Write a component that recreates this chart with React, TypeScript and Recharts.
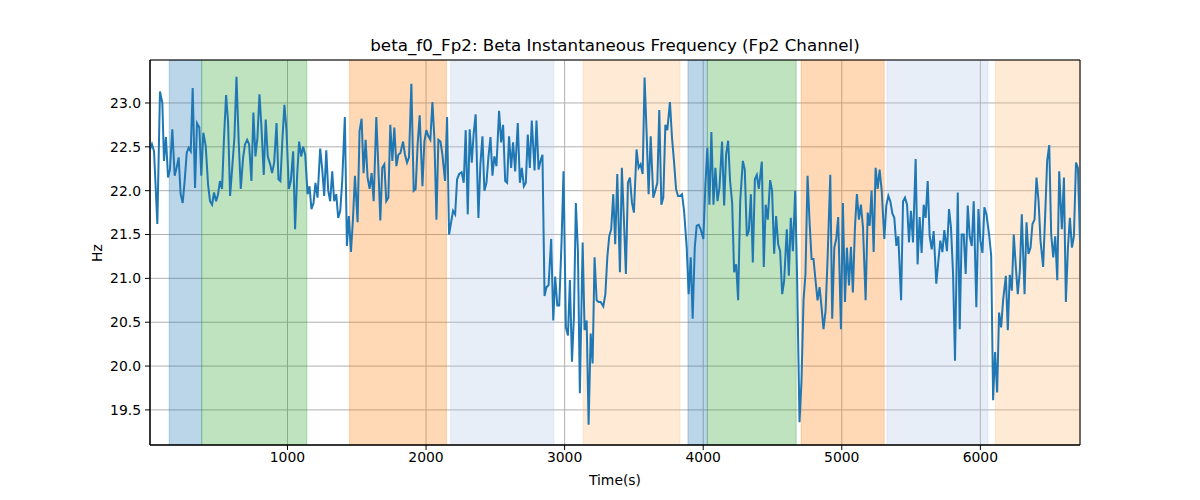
import {
  LineChart,
  Line,
  XAxis,
  YAxis,
  CartesianGrid,
  ReferenceArea,
} from "recharts";

// sample times (s)
const times = [
  // 0 - 1145
  8, 22, 37, 61, 80, 97, 109, 123, 138, 152, 169, 186, 200, 215, 229,
  244, 258, 273, 287, 302, 316, 333, 347, 364, 378, 393, 410, 427, 441, 456,
  470, 485, 499, 513, 528, 542, 557, 571, 586, 603, 617, 632, 648, 663, 680,
  694, 709, 723, 740, 754, 769, 783, 798, 812, 829, 843, 858, 875, 889, 904,
  921, 935, 949, 964, 978, 993, 1010, 1024, 1041, 1055, 1070, 1084, 1099, 1113, 1128,
  1145,
  // 1145 - 2240
  1159, 1173, 1188, 1202, 1217, 1236, 1251, 1265, 1280, 1294, 1308, 1323, 1337, 1352, 1366,
  1381, 1395, 1414, 1429, 1443, 1458, 1472, 1487, 1506, 1520, 1535, 1549, 1564, 1578, 1593,
  1607, 1622, 1641, 1655, 1670, 1684, 1699, 1713, 1728, 1742, 1757, 1771, 1786, 1800, 1815,
  1834, 1848, 1863, 1877, 1894, 1911, 1925, 1940, 1954, 1974, 1988, 2002, 2017, 2031, 2046,
  2060, 2075, 2089, 2104, 2118, 2137, 2152, 2166, 2181, 2195, 2210, 2224, 2239,
  // 2240 - 3325
  2257, 2272, 2286, 2301, 2315, 2330, 2344, 2358, 2378, 2392, 2407, 2421, 2436, 2450, 2465,
  2479, 2493, 2508, 2527, 2542, 2556, 2571, 2585, 2599, 2614, 2628, 2643, 2662, 2677, 2691,
  2706, 2720, 2734, 2749, 2763, 2783, 2797, 2812, 2826, 2840, 2855, 2869, 2884, 2903, 2918,
  2932, 2947, 2961, 2978, 2992, 3009, 3024, 3038, 3053, 3067, 3081, 3096, 3110, 3130, 3144,
  3159, 3173, 3188, 3202, 3216, 3231, 3245, 3260, 3279, 3294, 3308, 3322,
  // 3325 - 4405
  3336, 3351, 3365, 3380, 3399, 3413, 3428, 3442, 3457, 3471, 3486, 3500, 3519, 3534, 3548,
  3563, 3577, 3592, 3606, 3621, 3640, 3654, 3669, 3683, 3698, 3712, 3727, 3741, 3760, 3775,
  3789, 3804, 3818, 3833, 3847, 3862, 3881, 3895, 3910, 3924, 3939, 3953, 3968, 3982, 4001,
  4016, 4030, 4045, 4059, 4074, 4088, 4103, 4117, 4136, 4151, 4165, 4180, 4194, 4209, 4223,
  4238, 4252, 4267, 4286, 4300, 4315, 4329, 4344, 4358, 4373, 4387, 4401,
  // 4405 - 5490
  4423, 4437, 4451, 4466, 4483, 4497, 4512, 4526, 4541, 4555, 4570, 4584, 4603, 4618, 4632,
  4647, 4664, 4678, 4695, 4709, 4724, 4738, 4753, 4767, 4782, 4796, 4811, 4825, 4840, 4854,
  4868, 4883, 4897, 4917, 4931, 4946, 4960, 4974, 4994, 5008, 5023, 5037, 5052, 5066, 5080,
  5095, 5109, 5124, 5138, 5153, 5172, 5187, 5201, 5215, 5230, 5244, 5259, 5273, 5288, 5307,
  5321, 5336, 5350, 5365, 5379, 5394, 5408, 5428, 5442, 5456, 5471, 5485,
  // 5490 - end
  5499, 5514, 5533, 5547, 5562, 5576, 5591, 5605, 5620, 5634, 5649, 5663, 5682, 5697, 5711,
  5726, 5740, 5759, 5774, 5788, 5803, 5817, 5837, 5851, 5865, 5880, 5894, 5909, 5923, 5938,
  5952, 5971, 5986, 6000, 6015, 6029, 6044, 6063, 6078, 6092, 6106, 6121, 6135, 6150, 6164,
  6184, 6198, 6212, 6227, 6241, 6256, 6270, 6285, 6299, 6319, 6333, 6347, 6362, 6376, 6391,
  6405, 6420, 6434, 6453, 6468, 6482, 6497, 6511, 6526, 6540, 6555, 6569, 6588, 6603, 6617,
  6632, 6646, 6661, 6675, 6690, 6704, 6719,
];

// instantaneous frequency (Hz)
const hz = [
  22.47, 22.53, 22.45, 21.62, 23.13, 23.0, 22.34, 22.61, 22.15, 22.24, 22.7, 22.17, 22.26, 22.38, 21.96,
  21.86, 22.11, 22.43, 22.49, 22.45, 23.17, 22.03, 22.77, 22.72, 22.17, 22.66, 22.51, 22.07, 21.88, 21.84,
  21.98, 21.88, 21.96, 22.11, 22.02, 22.6, 23.09, 22.79, 21.94, 22.3, 22.6, 23.3, 22.56, 22.02, 22.38,
  22.53, 22.58, 22.53, 22.11, 22.89, 22.39, 22.6, 23.1, 22.73, 22.18, 22.81, 22.39, 22.3, 22.2, 22.32,
  22.77, 22.13, 22.11, 22.6, 22.98, 22.68, 22.02, 22.11, 22.45, 21.56, 22.18, 22.56, 22.39, 22.5, 22.41,
  21.96,

  22.05, 21.79, 21.86, 22.09, 21.92, 22.48, 22.24, 21.94, 22.46, 22.0, 21.88, 22.22, 21.88, 21.96, 21.69,
  21.77, 22.11, 22.84, 21.37, 21.71, 21.3, 21.66, 22.17, 21.64, 22.68, 22.82, 22.2, 22.58, 22.15, 22.02,
  22.2, 21.88, 22.84, 22.3, 21.66, 22.26, 22.3, 21.88, 21.92, 22.75, 22.34, 22.72, 22.28, 22.41, 22.43,
  22.56, 22.41, 22.32, 22.38, 23.22, 22.0, 22.02, 22.55, 22.86, 22.05, 22.56, 22.69, 22.62, 22.58, 23.01,
  22.6, 21.67, 22.58, 22.56, 22.41, 22.11, 22.84, 21.5, 21.64, 21.77, 21.73, 22.13, 22.19,

  22.21, 22.09, 22.69, 21.73, 22.7, 22.32, 22.66, 22.87, 21.69, 22.3, 22.62, 22.0, 22.09, 22.38, 22.61,
  22.17, 22.39, 22.28, 22.91, 22.55, 22.75, 22.11, 22.09, 22.62, 22.26, 22.55, 22.22, 22.77, 22.09, 22.26,
  22.05, 22.09, 22.64, 22.26, 22.8, 22.23, 22.8, 22.24, 22.34, 22.41, 20.8, 20.9, 20.92, 21.45, 20.52,
  21.02, 20.69, 20.69, 21.43, 22.22, 20.44, 20.35, 20.98, 20.05, 20.56, 21.86, 21.31, 19.69, 21.41, 20.41,
  20.52, 19.33, 20.37, 20.03, 21.24, 20.75, 20.73, 20.73, 20.68, 20.82, 21.24, 21.48,

  21.56, 21.96, 21.39, 22.19, 21.07, 22.26, 21.66, 21.05, 22.09, 22.15, 21.86, 21.75, 22.47, 22.26, 22.3,
  22.19, 23.29, 22.64, 21.96, 22.62, 21.92, 22.0, 22.09, 22.92, 21.84, 21.92, 22.75, 22.69, 23.01, 22.6,
  22.34, 22.02, 21.94, 21.94, 21.96, 21.77, 21.35, 20.82, 21.24, 20.54, 21.35, 21.6, 21.61, 21.56, 21.45,
  22.07, 22.49, 21.84, 22.67, 21.84, 22.26, 21.88, 22.03, 22.56, 21.83, 22.41, 22.57, 22.11, 21.86, 21.07,
  21.16, 20.75, 21.88, 22.34, 22.24, 21.48, 21.54, 21.96, 21.18, 22.13, 22.18, 22.02,

  22.33, 21.13, 21.84, 21.67, 22.12, 22.0, 21.28, 21.71, 21.39, 21.31, 20.82, 20.97, 21.56, 21.03, 21.69,
  21.31, 22.0, 20.97, 19.36, 19.82, 20.75, 21.05, 22.17, 21.66, 21.22, 21.22, 20.97, 20.75, 20.9, 20.67,
  20.42, 20.63, 21.2, 22.18, 20.54, 21.35, 21.45, 21.7, 20.42, 21.86, 20.73, 21.35, 20.92, 21.36, 20.84,
  21.58, 21.96, 21.67, 21.84, 21.58, 20.75, 21.75, 21.6, 22.0, 21.3, 22.26, 22.02, 22.24, 22.0, 21.45,
  21.83, 21.94, 21.88, 21.74, 21.69, 21.37, 21.48, 20.75, 21.88, 21.92, 21.84, 21.41,

  21.77, 21.41, 22.36, 21.16, 21.7, 21.29, 21.84, 21.69, 22.11, 21.48, 21.33, 21.54, 20.94, 21.2, 21.43,
  21.3, 21.55, 21.31, 21.79, 21.58, 21.05, 20.06, 21.98, 20.42, 21.5, 21.5, 21.05, 21.83, 21.48, 21.37,
  21.88, 20.67, 21.79, 21.43, 21.29, 21.81, 21.73, 21.5, 21.26, 19.61, 20.16, 19.7, 20.61, 20.44, 20.75,
  21.03, 20.41, 21.04, 20.86, 21.5, 21.13, 20.82, 21.09, 21.73, 20.82, 21.64, 21.28, 21.35, 21.62, 21.67,
  22.15, 21.88, 21.43, 21.13, 21.73, 22.34, 22.52, 21.5, 21.24, 21.48, 20.98, 22.22, 21.56, 22.15, 20.73,
  21.35, 21.69, 21.35, 21.48, 22.32, 22.26, 21.43,
];

// shaded intervals
const spanStart = [147, 381, 1448, 2178, 3134, 3890, 4030, 4707, 5326, 6108];
const spanEnd = [381, 1140, 2147, 2922, 3832, 4030, 4671, 5306, 6055, 6719];
const spanKind = ["blue", "green", "orange", "blueLight", "orangeLight", "blue", "green", "orange", "blueLight", "orangeLight"];

const xTicks = [1000, 2000, 3000, 4000, 5000, 6000];
const yTicks = [19.5, 20.0, 20.5, 21.0, 21.5, 22.0, 22.5, 23.0];

const Y_MIN = 19.1;
const Y_MAX = 23.49;

const spanColors: Record<string, string> = {
  blue: "#1f77b4",
  green: "#2ca02c",
  orange: "#ff7f0e",
  blueLight: "#aec7e8",
  orangeLight: "#ffbb78",
};

const FONT = "'DejaVu Sans', sans-serif";

export default function App() {
  const data = times.map((t, i) => ({ t, v: hz[i] }));
  const tMin = times[0];
  const tMax = times[times.length - 1];

  return (
    <div
      style={{
        position: "absolute",
        left: 0,
        top: 0,
        width: 1200,
        height: 500,
        background: "#fff",
        fontFamily: FONT,
      }}
    >
      <div
        style={{
          position: "absolute",
          left: 150,
          width: 930,
          top: 35,
          textAlign: "center",
          fontSize: 16.7,
          color: "#000",
        }}
      >
        beta_f0_Fp2: Beta Instantaneous Frequency (Fp2 Channel)
      </div>
      <div
        style={{
          position: "absolute",
          left: 150,
          width: 930,
          top: 472,
          textAlign: "center",
          fontSize: 13.9,
          color: "#000",
        }}
      >
        Time(s)
      </div>
      <div
        style={{
          position: "absolute",
          left: 97,
          top: 253,
          transform: "translate(-50%, -50%) rotate(-90deg)",
          fontSize: 13.9,
          color: "#000",
        }}
      >
        Hz
      </div>
      <LineChart
        width={1200}
        height={500}
        data={data}
        margin={{ top: 60, right: 120, bottom: 25, left: 0 }}
      >
        {spanStart.map((s, i) => (
          <ReferenceArea
            key={i}
            x1={s}
            x2={spanEnd[i]}
            y1={Y_MIN}
            y2={Y_MAX}
            fill={spanColors[spanKind[i]]}
            fillOpacity={0.3}
            stroke={spanColors[spanKind[i]]}
            strokeOpacity={0.3}
            ifOverflow="hidden"
          />
        ))}
        <CartesianGrid stroke="#b0b0b0" strokeWidth={1} />
        <XAxis
          dataKey="t"
          type="number"
          domain={[tMin, tMax]}
          allowDataOverflow
          ticks={xTicks}
          height={30}
          tickSize={5}
          tick={{ fontSize: 13.9, fill: "#000", fontFamily: FONT }}
          tickLine={{ stroke: "#000" }}
          axisLine={{ stroke: "#000" }}
        />
        <YAxis
          type="number"
          domain={[Y_MIN, Y_MAX]}
          allowDataOverflow
          ticks={yTicks}
          width={150}
          tickSize={5}
          tickMargin={4}
          tickFormatter={(v: number) => v.toFixed(1)}
          tick={{ fontSize: 13.9, fill: "#000", fontFamily: FONT }}
          tickLine={{ stroke: "#000" }}
          axisLine={{ stroke: "#000" }}
        />
        <Line
          type="linear"
          dataKey="v"
          stroke="#1f77b4"
          strokeWidth={2}
          dot={false}
          activeDot={false}
          isAnimationActive={false}
        />
        <ReferenceArea
          x1={tMin}
          x2={tMax}
          y1={Y_MIN}
          y2={Y_MAX}
          fill="none"
          stroke="#000"
          strokeWidth={1}
          ifOverflow="visible"
        />
      </LineChart>
    </div>
  );
}
